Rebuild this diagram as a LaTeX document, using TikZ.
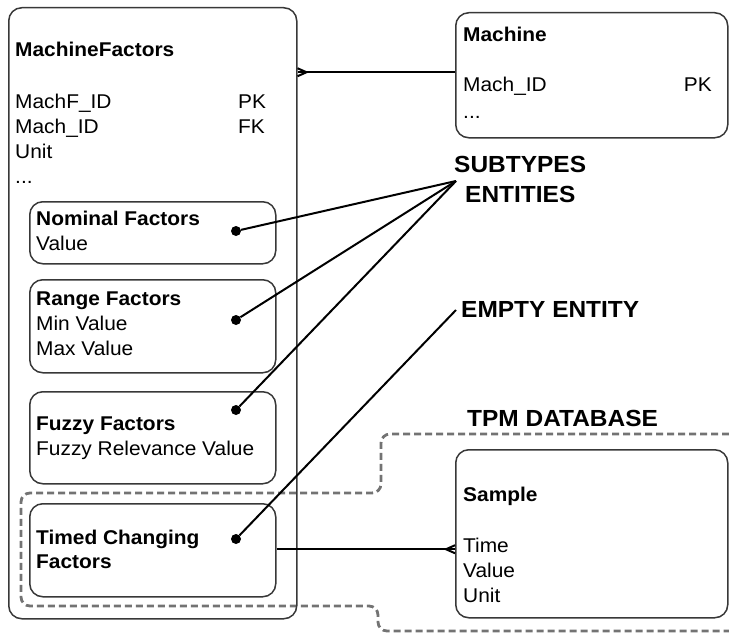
\documentclass[tikz,border=0pt]{standalone}
\usepackage{fontspec}
\setmainfont{Liberation Sans}[FakeStretch=1.05]
\usetikzlibrary{calc}
\begin{document}
\begin{tikzpicture}[x=1pt,y=-1pt,
  ent/.style={draw=black!78,line width=1.5pt,rounded corners=13pt,anchor=north west,inner sep=0pt},
  txt/.style={anchor=base west,inner sep=0pt,font=\fontsize{19.9}{25}\selectfont},
  btxt/.style={txt,font=\fontsize{19.9}{25}\selectfont\bfseries},
  ltxt/.style={anchor=base west,inner sep=0pt,font=\fontsize{23.3}{25}\selectfont\bfseries},
  dotmark/.style={circle,fill=black,inner sep=0pt,minimum size=10pt},
  conn/.style={draw=black,line width=2pt},
  region/.style={draw=black!55,line width=2.8pt,dash pattern=on 7pt off 4pt,rounded corners=9pt}]
\useasboundingbox (0,0) rectangle (729,634);
% TPM database region
\draw[region] (729,434) -- (381,434) -- (381,493) -- (21,493) -- (21,606) -- (378,606) -- (378,631) -- (729,631);
% MachineFactors
\node[ent,minimum width=288pt,minimum height=611pt] (mf) at (8,7) {};
\node[btxt] (mft) at (15,57) {MachineFactors};
\node[txt] (mf1) at (15,109) {MachF\_ID};
\node[txt] (mf1k) at (238,109) {PK};
\node[txt] (mf2) at (15,134) {Mach\_ID};
\node[txt] (mf2k) at (238,134) {FK};
\node[txt] (mf3) at (15,158) {Unit};
\node[txt] (mf4) at (15,183) {...};
% subtypes
\node[ent,minimum width=246pt,minimum height=62pt] (nom) at (29,201) {};
\node[btxt] (nomt) at (36,225) {Nominal Factors};
\node[txt] (nom1) at (36,250) {Value};
\node[dotmark] (d1) at (236,231) {};
\node[ent,minimum width=246pt,minimum height=93pt] (rng) at (29,279) {};
\node[btxt] (rngt) at (36,305) {Range Factors};
\node[txt] (rng1) at (36,330) {Min Value};
\node[txt] (rng2) at (36,355) {Max Value};
\node[dotmark] (d2) at (236,320) {};
\node[ent,minimum width=246pt,minimum height=92pt] (fuz) at (29,391) {};
\node[btxt] (fuzt) at (36,430) {Fuzzy Factors};
\node[txt] (fuz1) at (36,455) {Fuzzy Relevance Value};
\node[dotmark] (d3) at (236,410) {};
\node[ent,minimum width=246pt,minimum height=93pt] (tim) at (29,503) {};
\node[btxt] (timt) at (36,544) {Timed Changing};
\node[btxt] (timt2) at (36,568) {Factors};
\node[dotmark] (d4) at (236,539) {};
% Machine
\node[ent,minimum width=272pt,minimum height=125pt] (mach) at (455,12) {};
\node[btxt] (macht) at (463,42) {Machine};
\node[txt] (mach1) at (463,92) {Mach\_ID};
\node[txt,anchor=base east] (mach1k) at (712,92) {PK};
\node[txt] (mach2) at (463,118) {...};
% Sample
\node[ent,minimum width=272pt,minimum height=168pt] (samp) at (455,449) {};
\node[btxt] (sampt) at (463,501) {Sample};
\node[txt] (samp1) at (463,552) {Time};
\node[txt] (samp2) at (463,577) {Value};
\node[txt] (samp3) at (463,602) {Unit};
% labels
\node[ltxt] (lsub1) at (454,172) {SUBTYPES};
\node[ltxt] (lsub2) at (465,202) {ENTITIES};
\node[ltxt] (lemp) at (461,317) {EMPTY ENTITY};
\node[ltxt] (ltpm) at (467,426) {TPM DATABASE};
\coordinate (subpt) at (456,181);
\coordinate (emppt) at (456,310);
% annotation lines
\draw[conn] (d1) -- (subpt);
\draw[conn] (d2) -- (subpt);
\draw[conn] (d3) -- (subpt);
\draw[conn] (d4) -- (emppt);
% Machine -- MachineFactors
\coordinate (c1) at ($(mach.west)+(0,-3)$);
\draw[conn] (c1) -- (c1 -| mf.east);
\draw[conn] ($(c1 -| mf.east)+(0,-4)$) -- ($(c1 -| mf.east)+(9,0)$) -- ($(c1 -| mf.east)+(0,4)$);
% Timed -- Sample
\coordinate (c2) at ($(tim.east)+(0,-1)$);
\draw[conn] (c2) -- (c2 -| samp.west);
\draw[conn] ($(c2 -| samp.west)+(0,-4)$) -- ($(c2 -| samp.west)+(-9,0)$) -- ($(c2 -| samp.west)+(0,4)$);
\end{tikzpicture}
\end{document}
